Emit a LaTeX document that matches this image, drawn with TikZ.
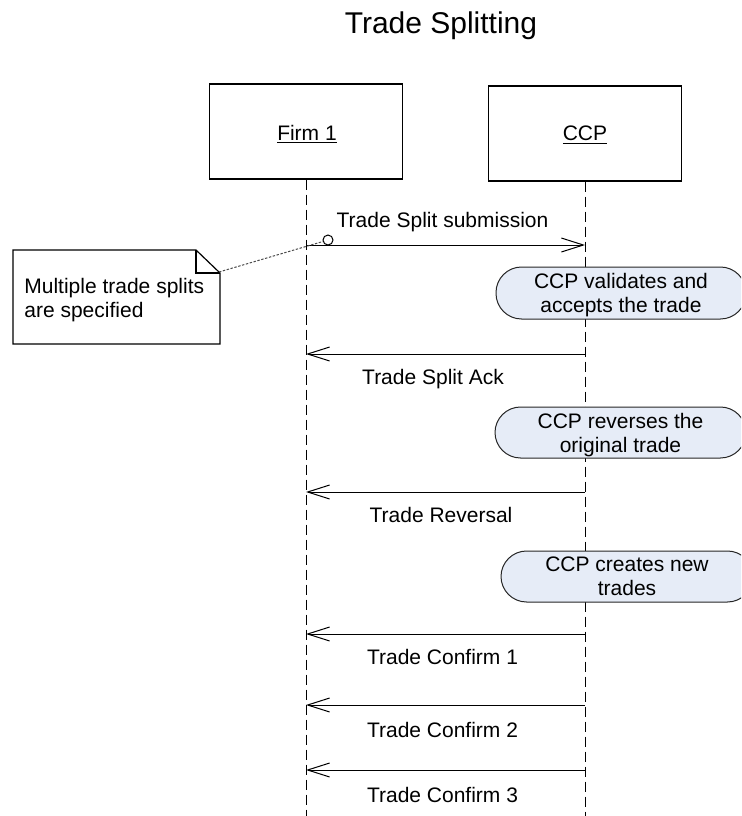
\documentclass[tikz,border=0pt]{standalone}
\usepackage{fontspec}
\setmainfont{Liberation Sans}
\usetikzlibrary{arrows.meta}
\definecolor{actfill}{HTML}{E6ECF7}
\begin{document}
\begin{tikzpicture}[x=0.5pt,y=-0.5pt,
  txt/.style={font=\fontsize{10.5}{12}\selectfont, inner sep=0pt},
  actor/.style={draw, line width=0.7pt, minimum width=96.5pt, minimum height=47.5pt, inner sep=0pt},
  act/.style={draw=black!85, fill=actfill, line width=0.5pt, rounded corners=12.8pt, inner sep=0pt, align=center, font=\fontsize{10.5}{12}\selectfont, text depth=0pt},
  lifeline/.style={line width=0.5pt, dash pattern=on 5pt off 2.5pt},
  msg/.style={line width=0.5pt, -{Straight Barb[length=11pt,width=7pt]}},
  notelink/.style={line width=0.5pt, black!70, dash pattern=on 1.2pt off 0.8pt}
]
\clip (0,0) rectangle (741,816);
\fill[white] (0,0) rectangle (741,816);

% title
\node[font=\fontsize{15}{18}\selectfont, inner sep=0pt, anchor=base] (title) at (441,33) {Trade Splitting};

% actors
\node[actor] (firm) at (306,131.5) {};
\node[actor] (ccp) at (585,133.5) {};
\node[txt, anchor=base] (firmlbl) at (307,140) {\underline{Firm 1}};
\node[txt, anchor=base] (ccplbl) at (585,140.5) {\underline{CCP}};

% lifelines
\coordinate (fend) at (306,816);
\coordinate (cend) at (585,816);
\draw[lifeline] (firm.south) -- (fend);
\draw[lifeline] (ccp.south) -- (cend);

% activity boxes
\node[act, minimum width=125pt, minimum height=26pt] (a1) at (621,293) {CCP validates and\\accepts the trade};
\node[act, minimum width=125.5pt, minimum height=25.5pt] (a2) at (620.5,432.5) {CCP reverses the\\original trade};
\node[act, minimum width=126pt, minimum height=25.5pt] (a3) at (627,576.5) {CCP creates new\\trades};

% message points
\coordinate (f1) at (306,245); \coordinate (c1) at (585,245);
\coordinate (f2) at (306,354); \coordinate (c2) at (585,354);
\coordinate (f3) at (306,492); \coordinate (c3) at (585,492);
\coordinate (f4) at (306,634); \coordinate (c4) at (585,634);
\coordinate (f5) at (306,705); \coordinate (c5) at (585,705);
\coordinate (f6) at (306,770); \coordinate (c6) at (585,770);

\draw[msg] (f1) -- (c1);
\draw[msg] (c2) -- (f2);
\draw[msg] (c3) -- (f3);
\draw[msg] (c4) -- (f4);
\draw[msg] (c5) -- (f5);
\draw[msg] (c6) -- (f6);

\node[txt, anchor=base] (m1) at (442.5,227.5) {Trade Split submission};
\node[txt, anchor=base] (m2) at (433,384.5) {Trade Split Ack};
\node[txt, anchor=base] (m3) at (441,522.5) {Trade Reversal};
\node[txt, anchor=base] (m4) at (442.5,664.5) {Trade Confirm 1};
\node[txt, anchor=base] (m5) at (442.5,737.5) {Trade Confirm 2};
\node[txt, anchor=base] (m6) at (442.5,802.5) {Trade Confirm 3};

% note
\draw[line width=0.6pt, fill=white] (13,250) -- (196,250) -- (220,273) -- (220,344) -- (13,344) -- cycle;
\draw[line width=1pt] (196,250) -- (196,273) -- (220,273);
\node[txt, anchor=west, align=left] (note) at (24,300) {Multiple trade splits\\are specified};
\node[circle, draw, line width=0.5pt, fill=white, minimum size=5pt, inner sep=0pt] (circ) at (328,240) {};
\coordinate (ncorner) at (219,272);
\draw[notelink] (ncorner) -- (circ);
\end{tikzpicture}
\end{document}
